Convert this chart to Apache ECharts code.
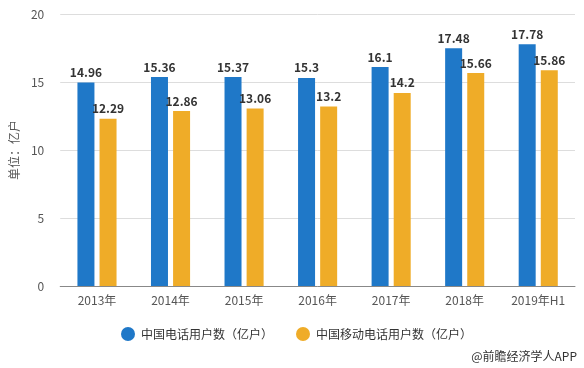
<!DOCTYPE html>
<html><head><meta charset="utf-8">
<script src="https://cdn.jsdelivr.net/npm/echarts@6/dist/echarts.min.js"></script>
<style>html,body{margin:0;padding:0;background:#fff}#c{width:584px;height:368px}</style>
</head><body><div id="c"></div>
<script>
const categories = ['2013年','2014年','2015年','2016年','2017年','2018年','2019年H1'];
const phoneUsers = [14.96,15.36,15.37,15.3,16.1,17.48,17.78];
const mobileUsers = [12.29,12.86,13.06,13.2,14.2,15.66,15.86];
const seriesNames = ['中国电话用户数（亿户）','中国移动电话用户数（亿户）'];
const font = '"Noto Sans CJK SC", "Microsoft YaHei", sans-serif';
const chart = echarts.init(document.getElementById('c'), null, {renderer:'canvas'});
const lbl = {show:true, position:'top', color:'#333', fontWeight:'bold', fontSize:12, fontFamily:font, distance:4};
chart.setOption({
  animation:false,
  textStyle:{fontFamily:font},
  grid:{left:57,right:9,top:14,bottom:82},
  legend:{
    bottom:22, left:116, icon:'circle', itemWidth:14, itemHeight:14, itemGap:23,
    textStyle:{fontSize:12,color:'#333',fontFamily:font,padding:[0,0,0,1]},
    data:seriesNames
  },
  graphic:[{type:'text',right:7,bottom:6,style:{text:'@前瞻经济学人APP',fill:'#333',font:'12px '+font}}],
  xAxis:{
    type:'category', data:categories,
    axisTick:{alignWithLabel:true,lineStyle:{color:'#888'}},
    axisLine:{lineStyle:{color:'#888'}},
    axisLabel:{color:'#555',fontSize:12,fontFamily:font,margin:8}
  },
  yAxis:{
    type:'value', min:0, max:20, interval:5,
    name:'单位：亿户', nameLocation:'middle', nameGap:40, nameRotate:90,
    nameTextStyle:{color:'#555',fontSize:12,fontFamily:font},
    axisLine:{show:false}, axisTick:{show:false},
    axisLabel:{color:'#555',fontSize:12,fontFamily:font,margin:16},
    splitLine:{lineStyle:{color:'#ddd'}}
  },
  series:[
    {name:seriesNames[0],type:'bar',data:phoneUsers,barWidth:17,barGap:'30%',itemStyle:{color:'#1f78c8'},label:lbl},
    {name:seriesNames[1],type:'bar',data:mobileUsers,barWidth:17,itemStyle:{color:'#efac28'},label:lbl}
  ]
});
</script></body></html>
